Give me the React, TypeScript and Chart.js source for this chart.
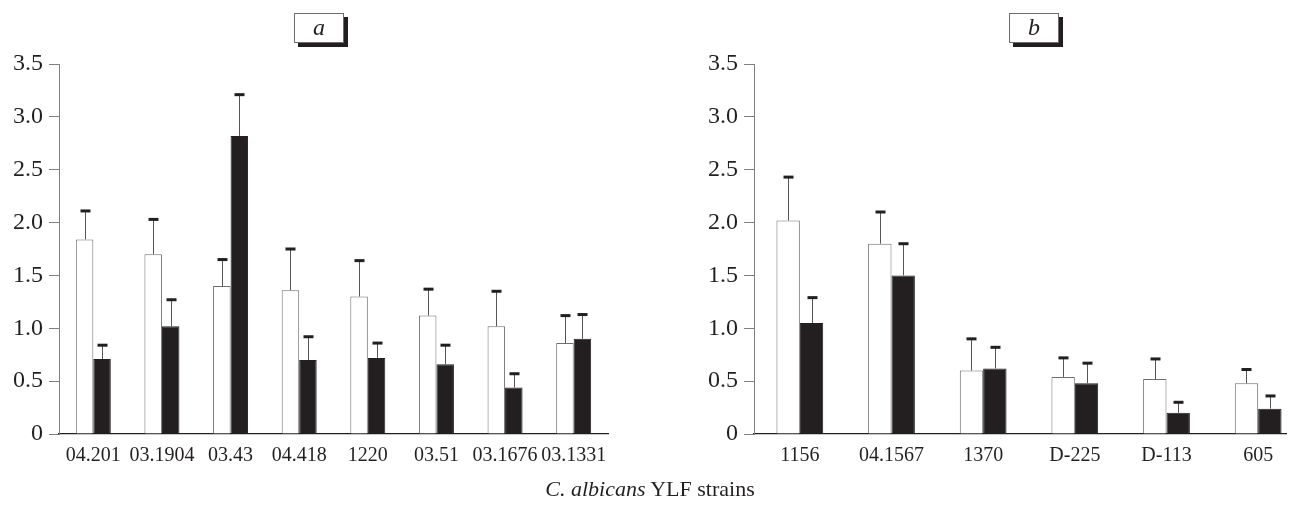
import React, { useEffect, useRef } from 'react';
import { Chart, registerables } from 'chart.js';

Chart.register(...registerables);

// ---- Data ----
const strainsA = ['04.201', '03.1904', '03.43', '04.418', '1220', '03.51', '03.1676', '03.1331'];
const whiteA = [1.84, 1.70, 1.40, 1.36, 1.30, 1.12, 1.02, 0.86];
const whiteErrA = [0.27, 0.33, 0.25, 0.39, 0.34, 0.25, 0.33, 0.26];
const blackA = [0.71, 1.02, 2.82, 0.70, 0.72, 0.66, 0.44, 0.90];
const blackErrA = [0.13, 0.25, 0.39, 0.22, 0.14, 0.18, 0.13, 0.23];

const strainsB = ['1156', '04.1567', '1370', 'D-225', 'D-113', '605'];
const whiteB = [2.02, 1.80, 0.60, 0.54, 0.52, 0.48];
const whiteErrB = [0.41, 0.30, 0.30, 0.18, 0.19, 0.13];
const blackB = [1.05, 1.50, 0.62, 0.48, 0.20, 0.24];
const blackErrB = [0.24, 0.30, 0.20, 0.19, 0.10, 0.12];

const yTickLabels = ['0', '0.5', '1.0', '1.5', '2.0', '2.5', '3.0', '3.5'];
const xAxisTitleItalic = 'C. albicans';
const xAxisTitleRest = ' YLF strains';

// ---- Style ----
const SERIF = '"Liberation Serif", "Times New Roman", Times, serif';
const INK = '#231f20';
const GREY = '#6d6e71';

const errorBarsPlugin = {
  id: 'errorBars',
  afterDatasetsDraw(chart: any) {
    const ctx = chart.ctx;
    const yScale = chart.scales.y;
    chart.data.datasets.forEach((ds: any, di: number) => {
      const meta = chart.getDatasetMeta(di);
      const errs: number[] = ds.errors || [];
      meta.data.forEach((bar: any, i: number) => {
        const v = ds.data[i];
        const e = errs[i];
        if (e == null) return;
        const x = bar.x;
        const yTop = yScale.getPixelForValue(v);
        const yCap = yScale.getPixelForValue(v + e);
        ctx.save();
        ctx.strokeStyle = '#555';
        ctx.lineWidth = 1;
        ctx.beginPath();
        ctx.moveTo(Math.round(x) + 0.5, yTop);
        ctx.lineTo(Math.round(x) + 0.5, yCap);
        ctx.stroke();
        ctx.fillStyle = INK;
        ctx.fillRect(Math.round(x) - 4.5, yCap - 1.5, 10, 3);
        ctx.restore();
      });
    });
  },
};

function Panel(props: {
  labels: string[];
  white: number[];
  whiteErr: number[];
  black: number[];
  blackErr: number[];
  left: number;
  width: number;
}) {
  const ref = useRef<HTMLCanvasElement | null>(null);
  useEffect(() => {
    if (!ref.current) return;
    const chart = new Chart(ref.current, {
      type: 'bar',
      data: {
        labels: props.labels,
        datasets: [
          {
            data: props.white,
            errors: props.whiteErr,
            backgroundColor: '#ffffff',
            borderColor: GREY,
            borderWidth: 1,
            categoryPercentage: 0.51,
            barPercentage: 1.0,
          } as any,
          {
            data: props.black,
            errors: props.blackErr,
            backgroundColor: INK,
            borderColor: INK,
            borderWidth: 1,
            categoryPercentage: 0.51,
            barPercentage: 1.0,
          } as any,
        ],
      },
      options: {
        responsive: false,
        animation: false,
        devicePixelRatio: 1,
        layout: { padding: { top: 56, right: 12, bottom: 0, left: 0 } },
        plugins: {
          legend: { display: false },
          title: { display: false },
          tooltip: { enabled: false },
        },
        scales: {
          x: {
            type: 'category',
            offset: true,
            grid: { display: false, drawTicks: false },
            border: { display: true, color: INK, width: 1.2 },
            ticks: {
              color: INK,
              padding: 10,
              maxRotation: 0,
              autoSkip: false,
              font: { family: SERIF, size: 20 },
            },
            afterFit: (s: any) => {
              s.height = 45;
            },
          },
          y: {
            min: 0,
            max: 3.5,
            ticks: {
              stepSize: 0.5,
              color: INK,
              padding: 6,
              font: { family: SERIF, size: 24 },
              callback: (_v: any, i: number) => yTickLabels[i],
            },
            grid: {
              display: true,
              drawOnChartArea: false,
              drawTicks: true,
              tickLength: 10,
              color: '#808080',
            },
            border: { display: true, color: '#808080', width: 1 },
            afterFit: (s: any) => {
              s.width = 51;
            },
          },
        },
      } as any,
      plugins: [errorBarsPlugin],
    });
    return () => chart.destroy();
  }, []);
  return (
    <canvas
      ref={ref}
      width={props.width}
      height={471}
      style={{ position: 'absolute', left: props.left, top: 0, width: props.width, height: 471, display: 'block' }}
    />
  );
}

function Tag(props: { text: string; left: number }) {
  return (
    <div
      style={{
        position: 'absolute',
        left: props.left,
        top: 5,
        width: 48,
        height: 28,
        border: `1px solid ${GREY}`,
        background: '#fff',
        boxShadow: `4px 4px 0 ${INK}`,
        fontFamily: SERIF,
        fontStyle: 'italic',
        fontSize: 24,
        lineHeight: '27px',
        textAlign: 'center',
        color: INK,
      }}
    >
      {props.text}
    </div>
  );
}

export default function App() {
  return (
    <div
      style={{
        position: 'relative',
        width: 1287,
        height: 491,
        overflow: 'hidden',
        background: '#fff',
        fontFamily: SERIF,
      }}
    >
      <Panel labels={strainsA} white={whiteA} whiteErr={whiteErrA} black={blackA} blackErr={blackErrA} left={0} width={612} />
      <Panel labels={strainsB} white={whiteB} whiteErr={whiteErrB} black={blackB} blackErr={blackErrB} left={695} width={613} />
      <Tag text="a" left={286} />
      <Tag text="b" left={1001} />
      <div
        style={{
          position: 'absolute',
          left: 0,
          width: 1284,
          top: 470,
          fontSize: 22,
          lineHeight: '22px',
          textAlign: 'center',
          color: INK,
          fontFamily: SERIF,
          whiteSpace: 'nowrap',
        }}
      >
        <i>{xAxisTitleItalic}</i>
        {xAxisTitleRest}
      </div>
    </div>
  );
}
